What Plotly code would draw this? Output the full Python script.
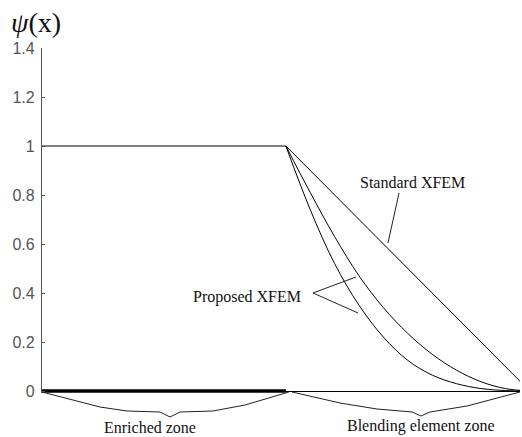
import plotly.graph_objects as go

# ---- data ----
x_enriched = [0.0, 1.0]
psi_enriched = [1.0, 1.0]
x_blend = [1.0, 1.1, 1.2, 1.3, 1.4, 1.5, 1.6, 1.7, 1.8, 1.9, 2.0]
standard_xfem = [1.0, 0.9, 0.8, 0.7, 0.6, 0.5, 0.4, 0.3, 0.2, 0.1, 0.0]
proposed_a = [1.0, 0.74, 0.52, 0.35, 0.22, 0.125, 0.065, 0.03, 0.01, 0.002, 0.0]
proposed_b = [1.0, 0.81, 0.63, 0.47, 0.34, 0.235, 0.15, 0.085, 0.038, 0.01, 0.0]
zone_x = [0.0, 1.0]
zone_y = [0.0, 0.0]
y_ticks = [0, 0.2, 0.4, 0.6, 0.8, 1.0, 1.2, 1.4]
y_tick_text = ["0", "0.2", "0.4", "0.6", "0.8", "1", "1.2", "1.4"]

W, H = 522, 437
L, R, T, B = 42, 2, 48, 44
PW, PH = W - L - R, H - T - B


def px(x):
    return (x - L) / PW


def py(y):
    return (H - B - y) / PH


fig = go.Figure()
line = dict(color="black", width=1)
fig.add_trace(go.Scatter(x=x_enriched, y=psi_enriched, mode="lines", line=line))
fig.add_trace(go.Scatter(x=x_blend, y=standard_xfem, mode="lines", line=line))
fig.add_trace(go.Scatter(x=x_blend, y=proposed_a, mode="lines", line=line, line_shape="spline"))
fig.add_trace(go.Scatter(x=x_blend, y=proposed_b, mode="lines", line=line, line_shape="spline"))
fig.add_trace(go.Scatter(x=zone_x, y=zone_y, mode="lines", line=dict(color="black", width=3.5)))


def path(points):
    return "M " + " L ".join(f"{px(a):.4f},{py(b):.4f}" for a, b in points)


shapes = []
# braces
brace1 = [(42, 392), (100, 407), (127, 411), (160, 412), (170, 417), (180, 412), (213, 411), (245, 405), (289, 392)]
brace2 = [(292, 392), (340, 403), (377, 409), (412, 412), (421, 416), (430, 412), (467, 406), (520, 392)]
# pointer lines
ptr_std = [(399, 193), (388, 243)]
ptr_p1 = [(356, 277), (313, 293), (358, 313)]
for pts in (brace1, brace2, ptr_std, ptr_p1):
    shapes.append(dict(type="path", xref="paper", yref="paper", path=path(pts),
                       line=dict(color="#222", width=1)))

serif = "Liberation Serif"
ann = []


def text(t, x, y, size=16, xanchor="center"):
    ann.append(dict(text=t, x=px(x), y=py(y), xref="paper", yref="paper", showarrow=False,
                    xanchor=xanchor, yanchor="middle",
                    font=dict(family=serif, size=size, color="#111")))


text("Standard XFEM", 412, 182)
text("Proposed XFEM", 247, 297)
text("Enriched zone", 150, 427)
text("Blending element zone", 421, 426)
text("<i>ψ</i>(x)", 9, 22, size=28, xanchor="left")

fig.update_layout(
    width=W, height=H,
    margin=dict(l=L, r=R, t=T, b=B),
    paper_bgcolor="white", plot_bgcolor="white",
    showlegend=False,
    shapes=shapes, annotations=ann,
    xaxis=dict(range=[0, 1.96], showgrid=False, zeroline=False, showticklabels=False,
               ticks="", showline=False),
    yaxis=dict(range=[-0.008, 1.4], showgrid=False, zeroline=True, zerolinecolor="black",
               zerolinewidth=1, tickvals=y_ticks, ticktext=y_tick_text, ticks="inside",
               ticklen=3, tickcolor="#555", showline=True, linecolor="#555", linewidth=1.2,
               tickfont=dict(family="Liberation Sans", size=16, color="#555"),
               ticklabelstandoff=3),
)

fig.write_html("out.html", config={"displayModeBar": False},
               post_script="document.body.style.margin='0';document.body.style.overflow='hidden';")
